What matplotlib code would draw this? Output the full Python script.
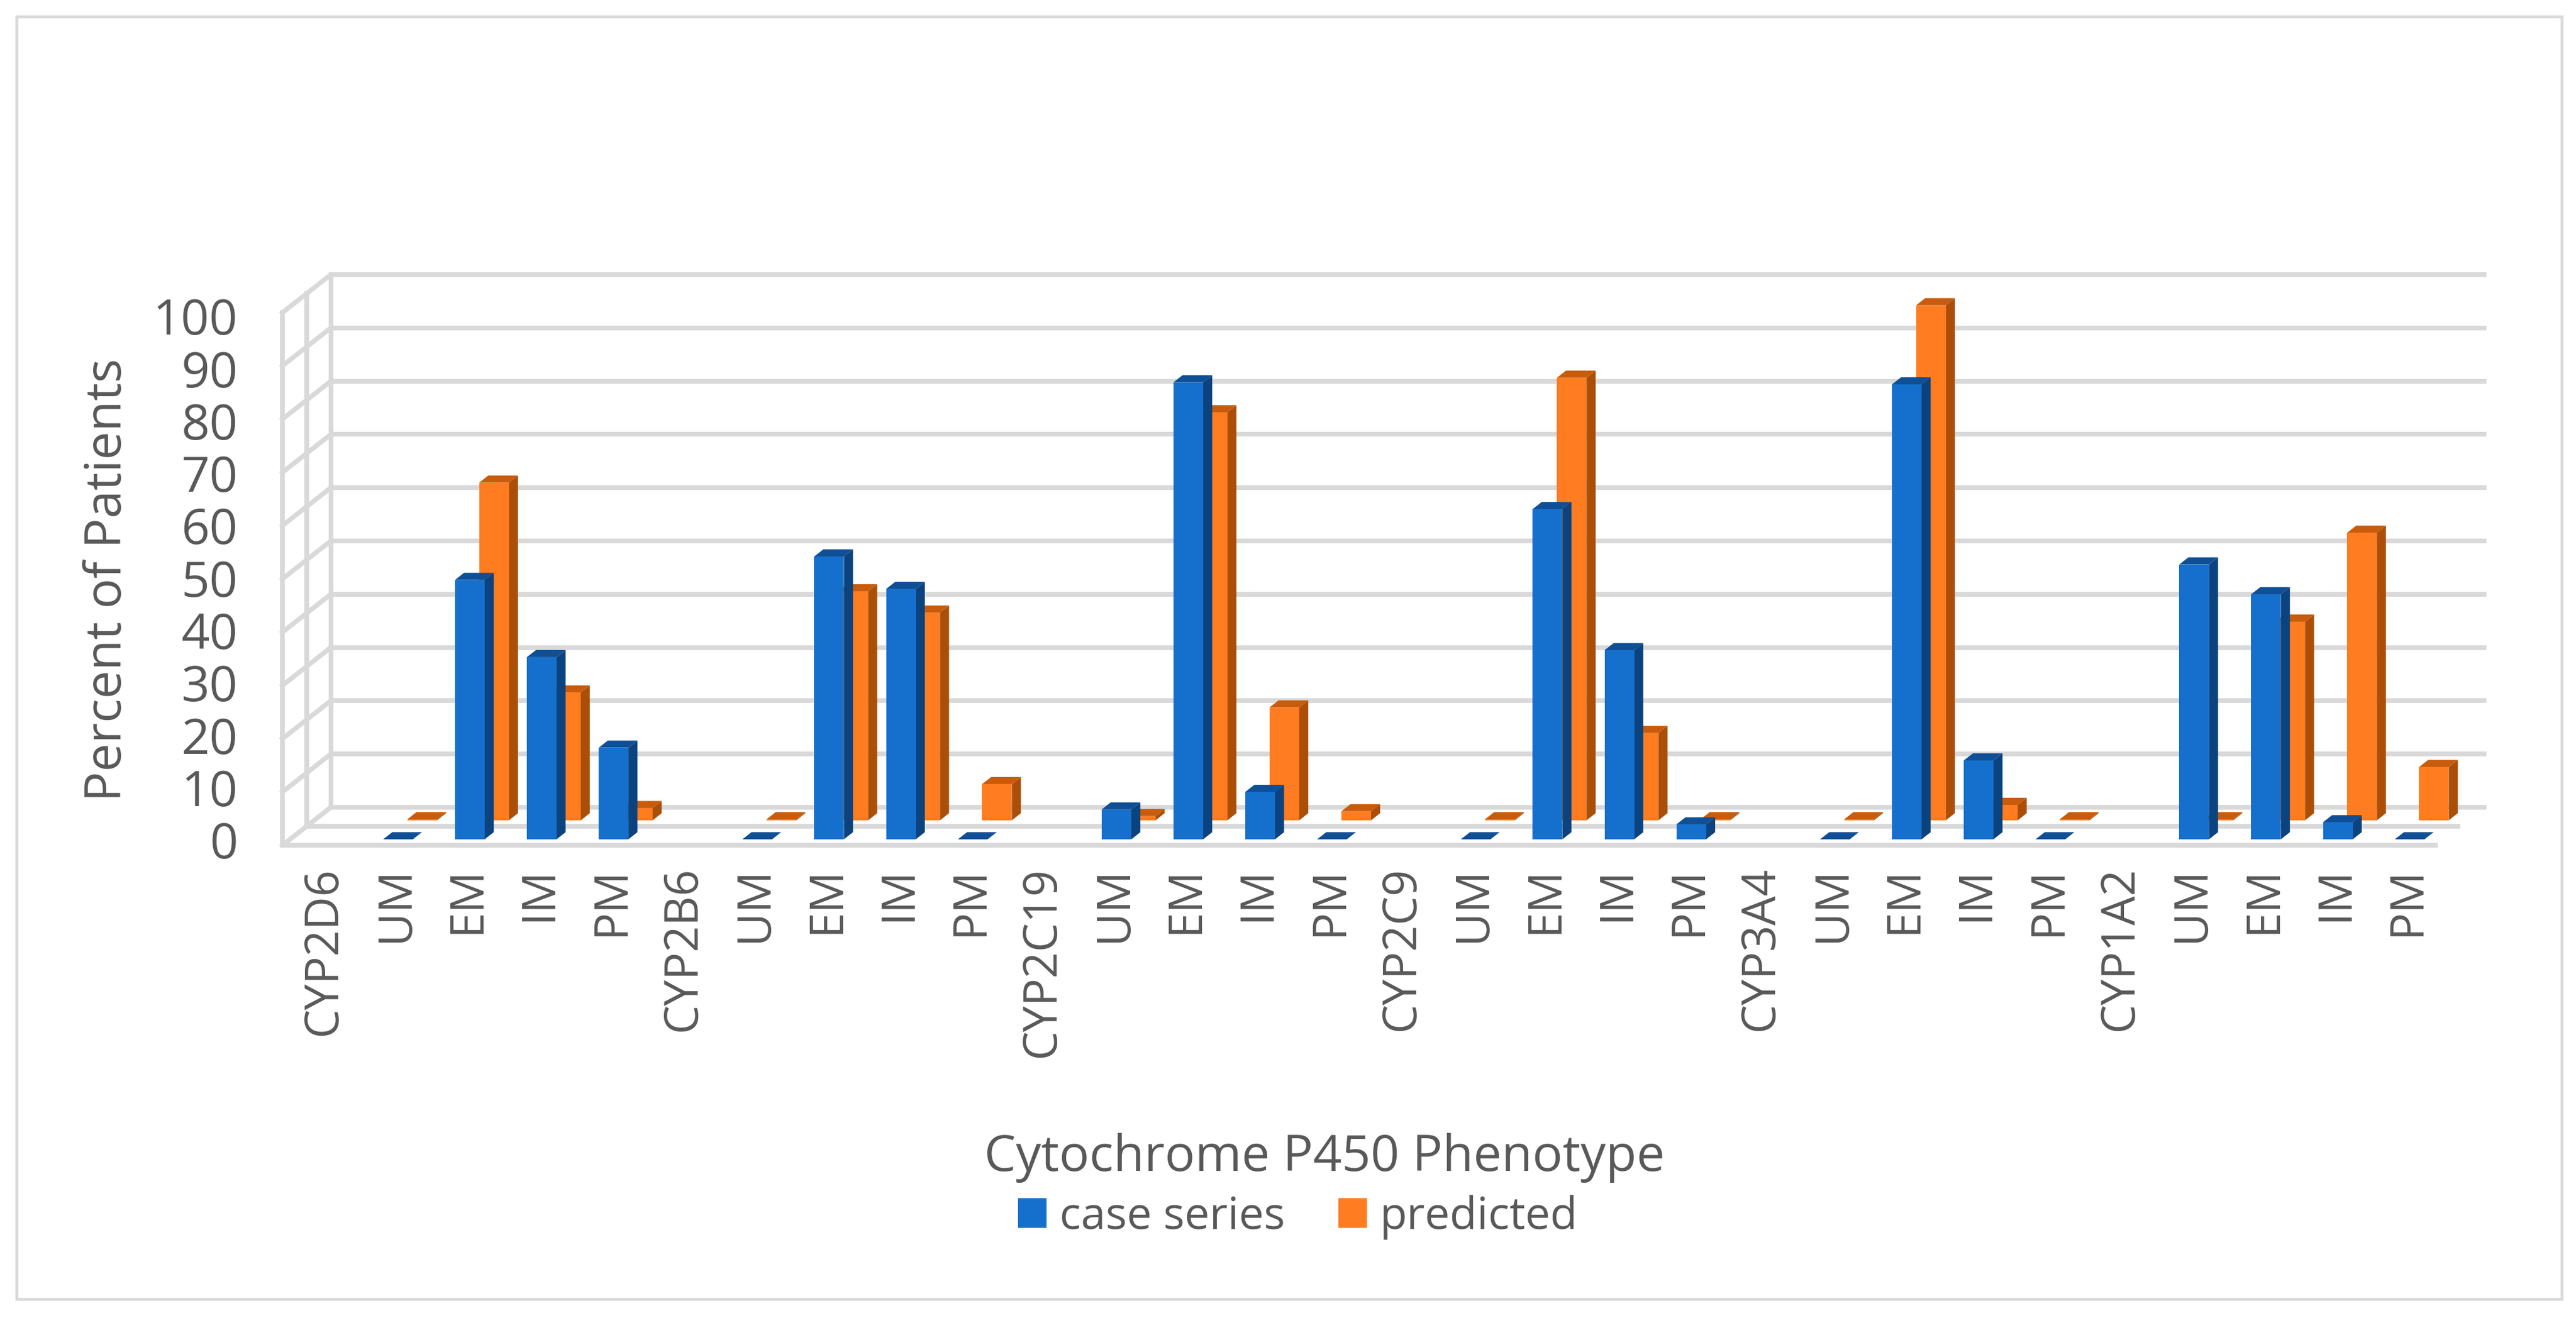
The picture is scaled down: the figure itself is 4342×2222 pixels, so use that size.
import matplotlib
matplotlib.use("Agg")
import matplotlib.pyplot as plt
from matplotlib.patches import Polygon, Rectangle
from matplotlib.transforms import ScaledTranslation

plt.rcParams['font.family'] = ['Open Sans', 'DejaVu Sans']

categories = ["CYP2D6", "UM", "EM", "IM", "PM",
              "CYP2B6", "UM", "EM", "IM", "PM",
              "CYP2C19", "UM", "EM", "IM", "PM",
              "CYP2C9", "UM", "EM", "IM", "PM",
              "CYP3A4", "UM", "EM", "IM", "PM",
              "CYP1A2", "UM", "EM", "IM", "PM"]
nan = float('nan')
case_series = [nan, 0, 48.7, 34.2, 17.2,
               nan, 0, 53.1, 47, 0,
               nan, 5.6, 85.8, 8.9, 0,
               nan, 0, 62, 35.5, 2.8,
               nan, 0, 85.4, 14.8, 0,
               nan, 51.6, 46, 3.2, 0]
predicted = [nan, 0.2, 63.4, 24, 2.3,
             nan, 0.2, 43, 39, 6.8,
             nan, 0.8, 76.6, 21.2, 1.7,
             nan, 0.2, 83.1, 16.4, 0.2,
             nan, 0.2, 96.7, 2.9, 0.2,
             nan, 0.2, 37.3, 54, 10]
y_ticks = list(range(0, 101, 10))

W, H = 4342, 2222
DPI = 100
GRID = '#d9d9d9'
TEXT = '#595959'
BLUE, BLUE_SIDE, BLUE_TOP = '#1570cd', '#0b437f', '#0f4f96'
ORANGE, ORANGE_SIDE, ORANGE_TOP = '#ff7c20', '#ab4f08', '#c85c0c'

fig = plt.figure(figsize=(W / DPI, H / DPI), dpi=DPI, facecolor='white')

# plot plane geometry in pixels
LEFT, RIGHT, BASE, TOP = 476, 4190, 1425, 467
XSTEP, X0 = 121.1, 537
YSTEP = 8.98
ax = fig.add_axes([LEFT / W, 1 - BASE / H, (RIGHT - LEFT) / W, (BASE - TOP) / H])
ax.set_xlim((LEFT - X0) / XSTEP, (RIGHT - X0) / XSTEP)
ax.set_ylim(0, (BASE - TOP) / YSTEP)
ax.set_facecolor('none')
for s in ax.spines.values():
    s.set_visible(False)

DEPTH_X = 81.6 / XSTEP      # full depth of the box, in x units
DEPTH_Y = 64 / YSTEP        # full depth of the box, in y units
GLW = 8 * 72 / DPI


def project(x, y, d):
    return x + d * DEPTH_X, y + d * DEPTH_Y


x_front = (LEFT - X0) / XSTEP
x_end_front = (4109 - X0) / XSTEP
x_end_mid = (4147 - X0) / XSTEP
x_back = x_end_front + DEPTH_X

# walls and floor
for v in y_ticks:
    x2, y2 = project(x_front, v, 1)
    ax.plot([x_front, x2], [v, y2], color=GRID, lw=GLW, clip_on=False, zorder=1,
            solid_capstyle='projecting')
    ax.plot([x2, x_back], [y2, y2], color=GRID, lw=GLW, clip_on=False, zorder=1,
            solid_capstyle='butt')
for d in (0, 0.5, 1):
    xa, ya0 = project(x_front, 0, d)
    xa, ya1 = project(x_front, 100, d)
    ax.plot([xa, xa], [ya0, ya1], color=GRID, lw=GLW, clip_on=False, zorder=1)
for d, xe in ((0, x_end_front), (0.5, x_end_mid)):
    xa, ya = project(x_front, 0, d)
    ax.plot([xa, xe], [ya, ya], color=GRID, lw=GLW, clip_on=False, zorder=1,
            solid_capstyle='butt')

BAR_W = 50 / XSTEP


def bars(values, d0, d1, face, side, top, z, label):
    xs, hs = [], []
    for i, v in enumerate(values):
        if v == v:
            xs.append(i)
            hs.append(v)
    cx = [project(x, 0, d0)[0] for x in xs]
    base = project(0, 0, d0)[1]
    cont = ax.bar(cx, hs, width=BAR_W, bottom=base, color=face, zorder=z + 0.2,
                  clip_on=False, label=label, linewidth=0)
    for x, v in zip(cx, hs):
        l, r = x - BAR_W / 2, x + BAR_W / 2
        ddx = (d1 - d0) * DEPTH_X
        ddy = (d1 - d0) * DEPTH_Y
        ax.add_patch(Polygon([(r, base), (r + ddx, base + ddy),
                              (r + ddx, base + ddy + v), (r, base + v)],
                             closed=True, fc=side, ec='none', zorder=z, clip_on=False))
        ax.add_patch(Polygon([(l, base + v), (l + ddx, base + v + ddy),
                              (r + ddx, base + v + ddy), (r, base + v)],
                             closed=True, fc=top, ec='none', zorder=z + 0.1, clip_on=False))
    return cont


h2 = bars(predicted, 0.656, 0.844, ORANGE, ORANGE_SIDE, ORANGE_TOP, 3, 'predicted')
h1 = bars(case_series, 0.156, 0.344, BLUE, BLUE_SIDE, BLUE_TOP, 5, 'case series')

# ticks
ax.set_yticks(y_ticks)
ax.set_xticks(range(len(categories)))
ax.set_xticklabels(categories, rotation=90, ha='center', va='top')
ax.tick_params(axis='both', length=0, labelcolor=TEXT)
ax.tick_params(axis='x', labelsize=56, pad=26)
ax.tick_params(axis='y', labelsize=60, pad=54)
off_x = ScaledTranslation(9 / DPI, 0, fig.dpi_scale_trans)
for lab in ax.get_xticklabels():
    lab.set_transform(lab.get_transform() + off_x)
for v, lab in zip(y_ticks, ax.get_yticklabels()):
    up = 9 - 0.15 * v
    lab.set_transform(lab.get_transform() + ScaledTranslation(0, up / DPI, fig.dpi_scale_trans))

ax.set_ylabel('Percent of Patients', fontsize=61, color=TEXT, va='center')
ax.yaxis.set_label_coords(182 / W, 1 - 978 / H, transform=fig.transFigure)
ax.set_xlabel('Cytochrome P450 Phenotype', fontsize=61, color=TEXT, va='center')
ax.xaxis.set_label_coords(2233 / W, 1 - 1952 / H, transform=fig.transFigure)

leg = fig.legend(handles=[h1, h2], labels=['case series', 'predicted'], ncol=2,
                 loc='center', bbox_to_anchor=(2188 / W, 1 - 2052 / H),
                 frameon=False, fontsize=54, handlelength=0.64, handleheight=0.65,
                 handletextpad=0.29, columnspacing=1.2, labelcolor=TEXT)

# chart border
fig.add_artist(Rectangle((28 / W, 1 - 2190 / H), (4318 - 28) / W, (2190 - 28) / H,
                         transform=fig.transFigure, fill=False, ec=GRID, lw=3.5))

fig.savefig('out.png', dpi=DPI, facecolor='white')
